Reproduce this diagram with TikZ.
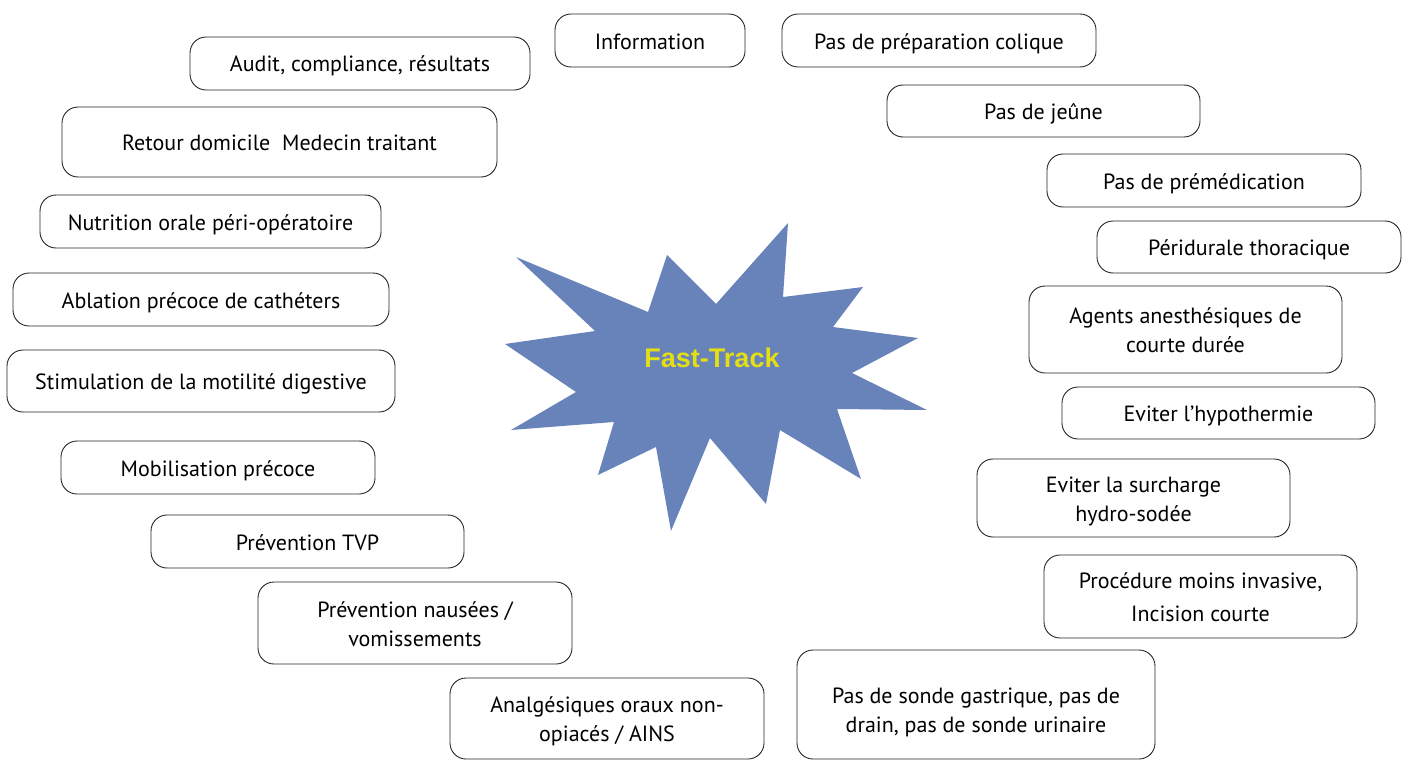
\documentclass[tikz,border=0pt]{standalone}
\usepackage{fontspec}
\setmainfont{PT Sans}
\newfontfamily\titlefont{Liberation Sans}
\usepackage{tikz}
\usepackage{xcolor}
\definecolor{starblue}{RGB}{104,131,186}
\definecolor{titleyellow}{RGB}{228,222,20}

\begin{document}
\begin{tikzpicture}[x=1pt,y=-1pt,
  bloc/.style={draw=black!85, line width=0.9pt, rounded corners=16pt, align=center,
    inner sep=0pt, text height=22pt, text depth=5pt, font=\fontsize{22}{29}\selectfont},
  bloc2/.style={bloc, text height=51pt}]

\useasboundingbox (0,0) rectangle (1403,760);

% Central star
\fill[starblue] (788,223) -- (783,297) -- (863,287) -- (833,327) -- (918,338)
  -- (852,373) -- (927,410) -- (837,409) -- (861,479) -- (780,430)
  -- (766,504) -- (710,438) -- (671,531) -- (656,447) -- (598,475)
  -- (614,422) -- (511,430) -- (576,392) -- (505,344) -- (595,331)
  -- (516,257) -- (648,312) -- (667,255) -- (716,304) -- cycle;
\node[font=\titlefont\bfseries\fontsize{27}{30}\selectfont, text=titleyellow] (ft) at (712,358) {Fast-Track};

% Left column
\node[bloc, minimum width=340pt, minimum height=53pt] (audit) at (360,63.5) {Audit, compliance, résultats};
\node[bloc, minimum width=435pt, minimum height=70pt] (retour) at (279.5,142) {Retour domicile\ \ Medecin traitant};
\node[bloc, minimum width=341pt, minimum height=53pt] (nutri) at (210.5,221.5) {Nutrition orale péri-opératoire};
\node[bloc, minimum width=376pt, minimum height=53pt] (ablation) at (201,299.5) {Ablation précoce de cathéters};
\node[bloc, minimum width=388pt, minimum height=62pt] (stim) at (201,381) {Stimulation de la motilité digestive};
\node[bloc, minimum width=314pt, minimum height=53pt] (mobil) at (218,467.5) {Mobilisation précoce};
\node[bloc, minimum width=313pt, minimum height=53pt] (tvp) at (307.5,541.5) {Prévention TVP};
\node[bloc2, minimum width=314pt, minimum height=82pt] (nausee) at (415,623) {Prévention nausées /\\vomissements};
\node[bloc2, minimum width=314pt, minimum height=81pt] (analg) at (607,718.5) {Analgésiques oraux non-\\opiacés / AINS};

% Top and right column
\node[bloc, minimum width=190pt, minimum height=53pt] (info) at (650,40.5) {Information};
\node[bloc, minimum width=314pt, minimum height=53pt] (prepa) at (939,40.5) {Pas de préparation colique};
\node[bloc, minimum width=313pt, minimum height=52pt] (jeune) at (1043.5,111) {Pas de jeûne};
\node[bloc, minimum width=314pt, minimum height=53pt] (premed) at (1204,180.5) {Pas de prémédication};
\node[bloc, minimum width=304pt, minimum height=52pt] (peri) at (1249,247) {Péridurale thoracique};
\node[bloc2, minimum width=313pt, minimum height=87pt] (agents) at (1185.5,329.5) {Agents anesthésiques de\\courte durée};
\node[bloc, minimum width=313pt, minimum height=52pt] (hypo) at (1218.5,413) {Eviter l’hypothermie};
\node[bloc2, minimum width=313pt, minimum height=78pt] (surch) at (1133.5,498) {Eviter la surcharge\\hydro-sodée};
\node[bloc2, minimum width=313pt, minimum height=83pt, text height=55pt, font=\fontsize{22}{33}\selectfont] (proc) at (1200.5,596.5) {Procédure moins invasive,\\Incision courte};
\node[bloc2, minimum width=358pt, minimum height=109pt, text height=61pt] (sonde) at (976,704.5) {Pas de sonde gastrique, pas de\\drain, pas de sonde urinaire};

\end{tikzpicture}
\end{document}
